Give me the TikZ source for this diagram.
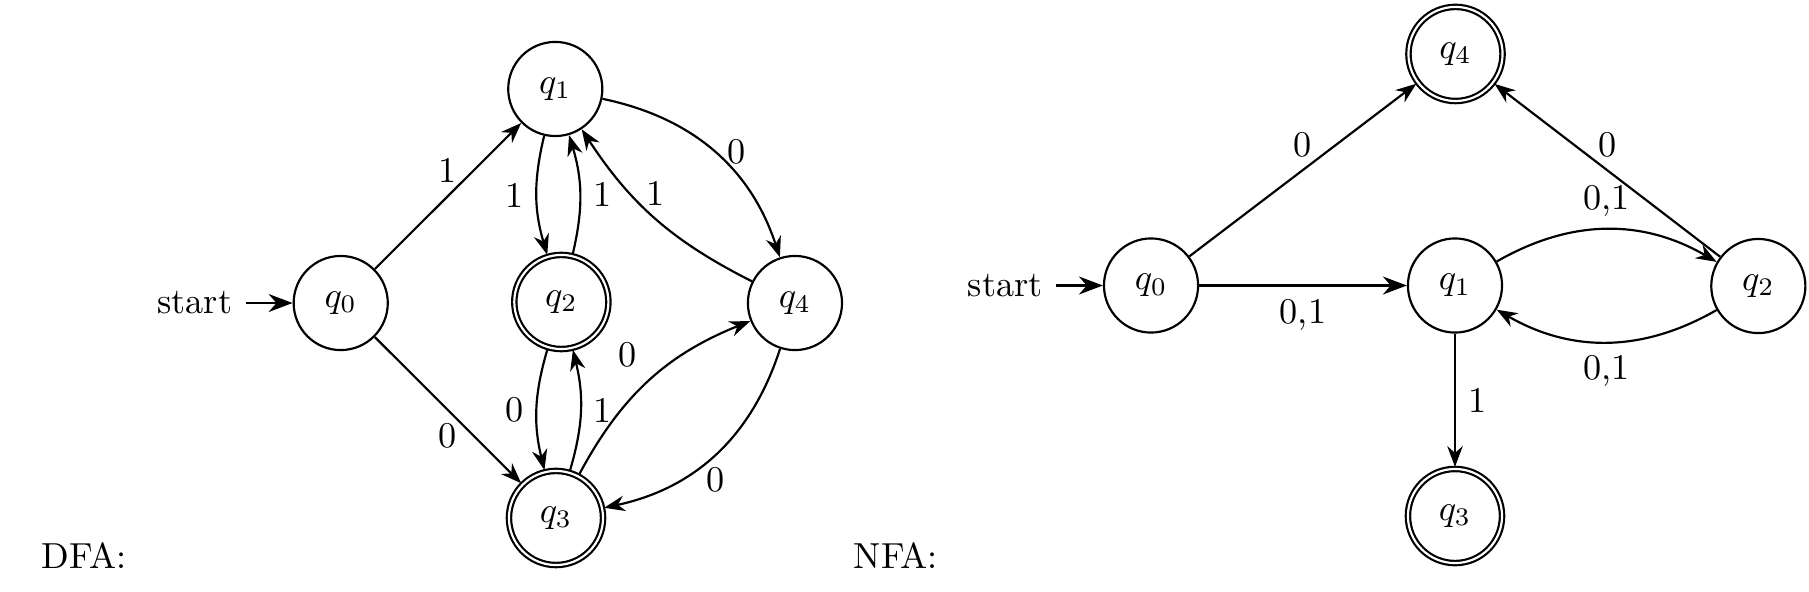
\documentclass[tikz,border=0pt]{standalone}
\usepackage{amsmath,amssymb}
\usepackage{tikz}
\usetikzlibrary{arrows.meta,automata,positioning}

\begin{document}
\begin{tikzpicture}[>=Stealth, semithick,
    every state/.style={minimum size=26pt, inner sep=1pt},
    every initial by arrow/.style={thick}]
    \useasboundingbox (0, 0) rectangle (17.563, 5.738);

    % DFA states
    \node[state, initial, initial text=start] (d0) at (3.308, 2.796) {$q_0$};
    \node[state] (d1) at (5.391, 4.874) {$q_1$};
    \node[state, accepting] (d2) at (5.450, 2.806) {$q_2$};
    \node[state, accepting] (d3) at (5.398, 0.709) {$q_3$};
    \node[state] (d4) at (7.718, 2.796) {$q_4$};
    \node[anchor=base west] (dfa) at (0.28, 0.223) {DFA:};

    % DFA transitions
    \path[->]
        (d0) edge node[above] {1} (d1)
             edge node[below] {0} (d3)
        (d1) edge[bend right=15] node[left] {1} (d2)
             edge[bend left=30] node[right] {0} (d4)
        (d2) edge[bend right=15] node[right] {1} (d1)
             edge[bend right=15] node[left] {0} (d3)
        (d3) edge[bend right=15] node[right] {1} (d2)
             edge[bend left=20] node[above left] {0} (d4)
        (d4) edge[bend left=15] node[above] {1} (d1)
             edge[bend left=30] node[below] {0} (d3);

    % NFA states
    \node[state, initial, initial text=start] (n0) at (11.175, 2.966) {$q_0$};
    \node[state] (n1) at (14.126, 2.966) {$q_1$};
    \node[state] (n2) at (17.071, 2.961) {$q_2$};
    \node[state, accepting] (n3) at (14.126, 0.728) {$q_3$};
    \node[state, accepting] (n4) at (14.131, 5.214) {$q_4$};
    \node[anchor=base west] (nfa) at (8.162, 0.223) {NFA:};

    % NFA transitions
    \path[->]
        (n0) edge[thick] node[below] {0,1} (n1)
             edge node[above] {0} (n4)
        (n1) edge[bend left=30] node[above] {0,1} (n2)
             edge node[right] {1} (n3)
        (n2) edge node[above] {0} (n4)
             edge[bend left=30] node[below] {0,1} (n1);
\end{tikzpicture}
\end{document}
